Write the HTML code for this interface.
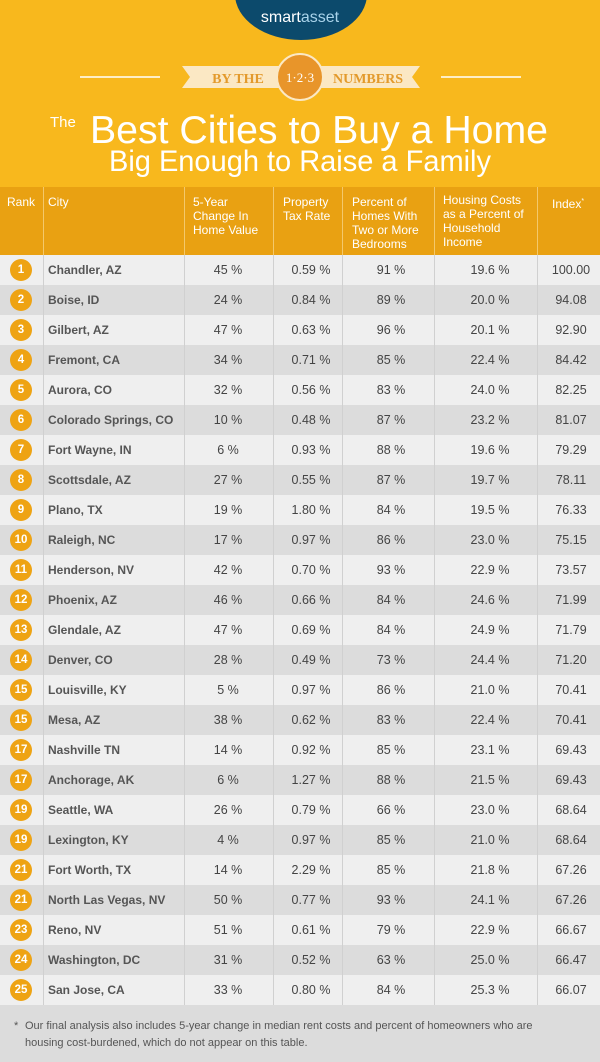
<!DOCTYPE html>
<html><head><meta charset="utf-8"><style>
*{margin:0;padding:0;box-sizing:border-box}
body{width:600px;height:1062px;background:#f8b81d;font-family:"Liberation Sans",sans-serif;position:relative;overflow:hidden}
.hdr{position:absolute;top:187px;left:0;width:600px;height:68px;background:#e9a112}
.hdr div{position:absolute;top:8px;color:#fff;font-size:12px;line-height:14px}
.vl{position:absolute;width:1px;background:#f4c86a}
.row{position:absolute;left:0;width:600px;height:30px;font-size:12.5px;color:#444}
.row span{position:absolute;top:8px;transform:translateX(-50%);white-space:nowrap}
.row .c{left:48px;transform:none;font-weight:bold;color:#555;font-size:12px}
.num{position:absolute;left:10px;top:4px;width:22px;height:22px;border-radius:50%;background:#eea313;color:#fff;font-weight:bold;font-size:11.5px;text-align:center;line-height:22px}
.rv{position:absolute;width:1px;background:#d0d0d0;top:255px;height:750px}
.foot{position:absolute;top:1005px;left:0;width:600px;height:57px;background:#dcdcdc;font-size:11px;color:#555;line-height:17px}
</style></head><body>
<svg width="600" height="187" style="position:absolute;top:0;left:0">
<ellipse cx="301" cy="-6" rx="66" ry="46" fill="#0c4a6c"/>
<text x="300" y="22" text-anchor="middle" font-family="Liberation Sans" font-size="16" fill="#fff">smart<tspan fill="#a9d3ea">asset</tspan></text>
<line x1="80" y1="77" x2="160" y2="77" stroke="#fff" stroke-width="1.5"/>
<line x1="441" y1="77" x2="521" y2="77" stroke="#fff" stroke-width="1.5"/>
<polygon points="182,66 420,66 412,77 420,88 182,88 190,77" fill="#fbe8c4"/>
<text x="238" y="83" text-anchor="middle" font-family="Liberation Serif" font-size="14" font-weight="bold" fill="#e39a2c">BY THE</text>
<text x="368" y="83" text-anchor="middle" font-family="Liberation Serif" font-size="14" font-weight="bold" fill="#e39a2c">NUMBERS</text>
<circle cx="300" cy="77" r="23" fill="#e8952a" stroke="#fbe8c4" stroke-width="2"/>
<text x="300" y="82" text-anchor="middle" font-family="Liberation Serif" font-size="13" fill="#fff">1·2·3</text>
<text x="50" y="127" font-family="Liberation Sans" font-size="15" fill="#fff">The</text>
<text x="90" y="143" font-family="Liberation Sans" font-size="39" fill="#fff" textLength="458" lengthAdjust="spacingAndGlyphs">Best Cities to Buy a Home</text>
<text x="109" y="171" font-family="Liberation Sans" font-size="30" fill="#fff" textLength="382" lengthAdjust="spacingAndGlyphs">Big Enough to Raise a Family</text>
</svg>
<div class="hdr">
<div style="left:7px">Rank</div><div style="left:48px">City</div>
<div style="left:193px">5-Year<br>Change In<br>Home Value</div>
<div style="left:283px">Property<br>Tax Rate</div>
<div style="left:352px">Percent of<br>Homes With<br>Two or More<br>Bedrooms</div>
<div style="left:443px;top:6px">Housing Costs<br>as a Percent of<br>Household<br>Income</div>
<div style="left:552px">Index<sup style="font-size:7px">*</sup></div>
<span class="vl" style="left:43px;top:0;height:68px"></span><span class="vl" style="left:184px;top:0;height:68px"></span><span class="vl" style="left:273px;top:0;height:68px"></span><span class="vl" style="left:342px;top:0;height:68px"></span><span class="vl" style="left:434px;top:0;height:68px"></span><span class="vl" style="left:537px;top:0;height:68px"></span>
</div>
<div id="rows"></div>
<script>
var d=[[1,"Chandler, AZ","45 %","0.59 %","91 %","19.6 %","100.00"],[2,"Boise, ID","24 %","0.84 %","89 %","20.0 %","94.08"],[3,"Gilbert, AZ","47 %","0.63 %","96 %","20.1 %","92.90"],[4,"Fremont, CA","34 %","0.71 %","85 %","22.4 %","84.42"],[5,"Aurora, CO","32 %","0.56 %","83 %","24.0 %","82.25"],[6,"Colorado Springs, CO","10 %","0.48 %","87 %","23.2 %","81.07"],[7,"Fort Wayne, IN","6 %","0.93 %","88 %","19.6 %","79.29"],[8,"Scottsdale, AZ","27 %","0.55 %","87 %","19.7 %","78.11"],[9,"Plano, TX","19 %","1.80 %","84 %","19.5 %","76.33"],[10,"Raleigh, NC","17 %","0.97 %","86 %","23.0 %","75.15"],[11,"Henderson, NV","42 %","0.70 %","93 %","22.9 %","73.57"],[12,"Phoenix, AZ","46 %","0.66 %","84 %","24.6 %","71.99"],[13,"Glendale, AZ","47 %","0.69 %","84 %","24.9 %","71.79"],[14,"Denver, CO","28 %","0.49 %","73 %","24.4 %","71.20"],[15,"Louisville, KY","5 %","0.97 %","86 %","21.0 %","70.41"],[15,"Mesa, AZ","38 %","0.62 %","83 %","22.4 %","70.41"],[17,"Nashville TN","14 %","0.92 %","85 %","23.1 %","69.43"],[17,"Anchorage, AK","6 %","1.27 %","88 %","21.5 %","69.43"],[19,"Seattle, WA","26 %","0.79 %","66 %","23.0 %","68.64"],[19,"Lexington, KY","4 %","0.97 %","85 %","21.0 %","68.64"],[21,"Fort Worth, TX","14 %","2.29 %","85 %","21.8 %","67.26"],[21,"North Las Vegas, NV","50 %","0.77 %","93 %","24.1 %","67.26"],[23,"Reno, NV","51 %","0.61 %","79 %","22.9 %","66.67"],[24,"Washington, DC","31 %","0.52 %","63 %","25.0 %","66.47"],[25,"San Jose, CA","33 %","0.80 %","84 %","25.3 %","66.07"]];
var x=[228,311,391,490,571],h="";
d.forEach(function(r,i){h+='<div class="row" style="top:'+(255+i*30)+'px;background:'+(i%2?'#dcdcdc':'#efefef')+'"><div class="num">'+r[0]+'</div><span class="c">'+r[1]+'</span>';for(var k=0;k<5;k++)h+='<span style="left:'+x[k]+'px">'+r[k+2]+'</span>';h+='</div>';});
[43,184,273,342,434,537].forEach(function(v){h+='<div class="rv" style="left:'+v+'px"></div>';});
document.getElementById("rows").innerHTML=h;
</script>
<div class="foot"><div style="position:absolute;left:14px;top:13px">*</div><div style="position:absolute;left:25px;top:13px;width:570px">Our final analysis also includes 5-year change in median rent costs and percent of homeowners who are<br>housing cost-burdened, which do not appear on this table.</div></div>
</body></html>
